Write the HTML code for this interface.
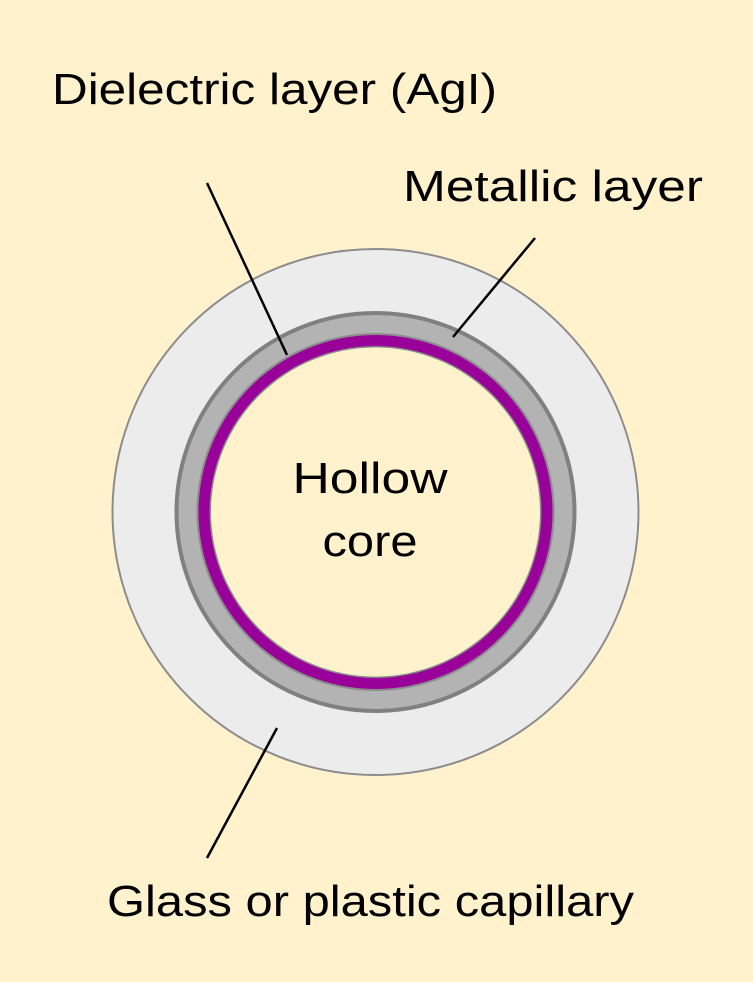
<!DOCTYPE html>
<html><head><style>html,body{margin:0;padding:0;background:#fff2cc}</style></head>
<body>
<svg width="753" height="977" viewBox="0 0 753 977" xmlns="http://www.w3.org/2000/svg">
<rect width="753" height="977" fill="#fff2cc"/>
<circle cx="375.5" cy="512" r="263" fill="#ececec" stroke="#8c8c8c" stroke-width="2"/>
<circle cx="375.5" cy="512" r="199" fill="#b3b3b3" stroke="#808080" stroke-width="4"/>
<circle cx="375.5" cy="512" r="179" fill="#8c8c8c"/>
<circle cx="375.5" cy="512" r="177" fill="#990099"/>
<circle cx="375.5" cy="512" r="166" fill="#8c8c8c"/>
<circle cx="375.5" cy="512" r="164.5" fill="#fff2cc"/>
<g stroke="#000" stroke-width="2.5">
<line x1="207" y1="183" x2="287" y2="355"/>
<line x1="535" y1="238" x2="453" y2="337"/>
<line x1="277" y1="728" x2="207" y2="858"/>
</g>
<g font-family="Liberation Sans, sans-serif" font-size="44" fill="#000">
<text x="52" y="104" textLength="445" lengthAdjust="spacingAndGlyphs">Dielectric layer (AgI)</text>
<text x="403" y="201" textLength="300" lengthAdjust="spacingAndGlyphs">Metallic layer</text>
<text x="370" y="493" text-anchor="middle" textLength="155" lengthAdjust="spacingAndGlyphs">Hollow</text>
<text x="370" y="556" text-anchor="middle" textLength="95" lengthAdjust="spacingAndGlyphs">core</text>
<text x="107" y="916" textLength="527" lengthAdjust="spacingAndGlyphs">Glass or plastic capillary</text>
</g>
</svg>
</body></html>
